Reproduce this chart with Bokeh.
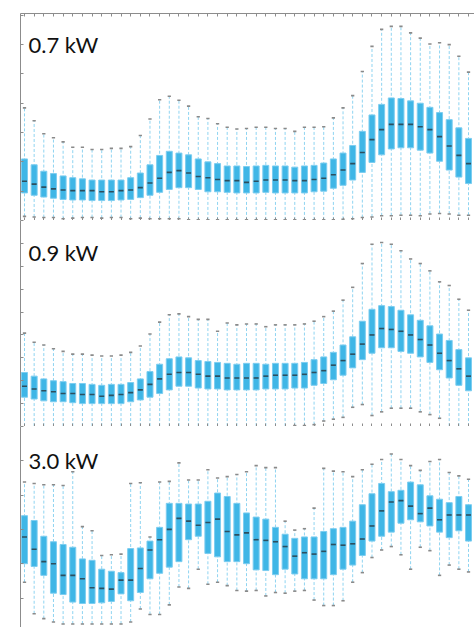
from bokeh.plotting import figure
from bokeh.layouts import column
from bokeh.models import FixedTicker, Label, LinearAxis, ColumnDataSource, Range1d
from bokeh.embed import file_html
from bokeh.resources import INLINE

slots = list(range(1, 48))
panel_labels = ["0.7 kW", "0.9 kW", "3.0 kW"]

p1_hi = [1.92,1.70,1.48,1.41,1.34,1.25,1.25,1.21,1.21,1.23,1.23,1.26,1.45,1.73,2.06,2.12,2.05,1.95,1.77,1.74,1.65,1.59,1.56,1.57,1.59,1.59,1.57,1.57,1.52,1.59,1.59,1.60,1.75,1.92,2.13,2.54,2.97,3.26,3.31,3.31,3.20,3.11,3.01,3.03,3.00,2.80,2.53]
p1_q3 = [1.05,0.95,0.84,0.80,0.76,0.73,0.71,0.69,0.69,0.69,0.69,0.73,0.81,0.95,1.11,1.18,1.15,1.12,1.05,1.00,0.97,0.93,0.93,0.92,0.93,0.94,0.93,0.93,0.91,0.93,0.94,0.98,1.05,1.15,1.28,1.52,1.80,1.98,2.09,2.08,2.04,2.00,1.93,1.84,1.72,1.58,1.40]
p1_med = [0.67,0.62,0.57,0.54,0.52,0.51,0.51,0.51,0.49,0.49,0.51,0.52,0.56,0.64,0.72,0.82,0.85,0.81,0.75,0.73,0.70,0.68,0.68,0.65,0.67,0.69,0.69,0.69,0.68,0.68,0.70,0.72,0.78,0.86,0.97,1.16,1.38,1.55,1.64,1.64,1.64,1.60,1.55,1.43,1.27,1.11,0.97]
p1_q1 = [0.47,0.43,0.40,0.38,0.36,0.35,0.35,0.34,0.34,0.34,0.35,0.36,0.39,0.43,0.48,0.53,0.56,0.56,0.53,0.49,0.49,0.48,0.47,0.47,0.47,0.48,0.47,0.47,0.47,0.47,0.49,0.50,0.55,0.60,0.69,0.82,0.99,1.12,1.22,1.24,1.24,1.20,1.15,1.01,0.86,0.74,0.63]
p1_lo = [0.07,0.06,0.05,0.05,0.03,0.04,0.05,0.05,0.04,0.05,0.05,0.03,0.04,0.03,0.03,0.03,0.03,
         0.01,0.01,0.01,0.01,0.01,0.01,0.01,0.01,0.01,0.01,0.01,0.01,0.01,0.01,0.01,0.01,0.02,0.03,
         0.05,0.06,0.08,0.08,0.09,0.09,0.08,0.11,0.12,0.11,0.09,0.09]

p2_hi = [1.02,0.92,0.89,0.85,0.82,0.79,0.79,0.78,0.77,0.77,0.78,0.81,0.88,1.01,1.14,1.22,1.23,1.20,1.17,1.17,1.04,1.13,1.11,1.12,1.12,1.09,1.11,1.11,1.11,1.12,1.15,1.20,1.26,1.38,1.52,1.78,1.99,2.01,1.99,1.92,1.83,1.78,1.70,1.58,1.54,1.39,1.27]
p2_q3 = [0.59,0.55,0.52,0.50,0.49,0.47,0.47,0.46,0.45,0.46,0.46,0.48,0.52,0.60,0.68,0.74,0.76,0.75,0.72,0.71,0.70,0.69,0.68,0.69,0.69,0.68,0.69,0.69,0.69,0.70,0.73,0.76,0.81,0.89,0.98,1.15,1.28,1.32,1.31,1.27,1.22,1.16,1.10,1.01,0.94,0.84,0.75]
p2_med = [0.44,0.41,0.39,0.38,0.36,0.36,0.35,0.35,0.33,0.34,0.35,0.37,0.40,0.46,0.52,0.57,0.59,0.59,0.57,0.55,0.55,0.53,0.53,0.53,0.53,0.55,0.56,0.56,0.56,0.57,0.59,0.61,0.67,0.72,0.79,0.90,1.00,1.07,1.06,1.04,1.00,0.95,0.89,0.80,0.72,0.63,0.55]
p2_q1 = [0.32,0.30,0.28,0.27,0.27,0.26,0.25,0.25,0.25,0.25,0.25,0.27,0.29,0.32,0.36,0.40,0.44,0.44,0.42,0.41,0.41,0.40,0.40,0.40,0.40,0.41,0.41,0.41,0.42,0.42,0.45,0.47,0.51,0.56,0.64,0.73,0.80,0.86,0.86,0.82,0.80,0.76,0.70,0.62,0.53,0.45,0.39]
p2_lo = [-0.05]*28 + [0.01,0.01,0.02,0.06,0.08,0.10,0.21,0.24,0.12,0.16,0.20,0.20,0.20,0.16,0.13,0.09,-0.05,-0.05,-0.05]

p3_hi = [2.19,2.17,2.15,2.15,2.14,2.34,1.54,1.48,1.12,1.13,1.14,2.17,2.18,1.39,2.19,2.20,2.47,2.22,2.22,2.37,2.25,2.27,2.30,2.34,2.43,2.40,2.40,1.62,1.49,1.51,1.81,2.39,2.35,2.34,2.27,2.37,2.45,2.52,2.60,2.52,2.43,2.36,2.49,2.52,2.33,2.28,2.23]
p3_q3 = [1.70,1.63,1.40,1.32,1.28,1.24,1.07,1.05,0.92,0.89,0.87,1.22,1.23,1.33,1.53,1.88,1.88,1.87,1.87,1.91,2.03,1.98,1.88,1.74,1.68,1.65,1.53,1.43,1.37,1.39,1.39,1.47,1.51,1.53,1.62,1.86,2.02,2.17,2.05,2.07,2.19,2.15,1.99,1.94,1.89,1.98,1.86]
p3_med = [1.39,1.21,1.03,1.00,0.83,0.83,0.78,0.65,0.64,0.63,0.76,0.76,0.93,1.20,1.35,1.50,1.66,1.62,1.56,1.60,1.65,1.47,1.42,1.45,1.35,1.34,1.32,1.25,1.11,1.16,1.14,1.18,1.28,1.27,1.29,1.36,1.55,1.77,1.90,1.92,1.84,1.73,1.81,1.64,1.71,1.71,1.71]
p3_q1 = [1.00,0.96,0.83,0.57,0.55,0.44,0.42,0.42,0.43,0.45,0.56,0.46,0.58,0.78,0.86,0.95,1.03,1.35,1.40,1.15,1.10,1.03,1.03,1.00,0.91,0.90,0.84,0.92,0.85,0.78,0.78,0.78,0.84,0.92,0.98,1.12,1.33,1.40,1.46,1.59,1.64,1.61,1.55,1.46,1.38,1.48,1.33]
p3_lo = [0.73,0.27,0.20,0.15,0.12,0.12,0.12,0.12,0.12,0.12,0.12,0.15,0.34,0.26,0.26,0.40,0.66,0.64,0.92,0.70,0.73,0.68,0.61,0.60,0.61,0.53,0.58,0.57,0.60,0.61,0.47,0.39,0.39,0.46,0.73,0.87,1.09,1.20,1.25,1.13,0.92,1.24,1.19,0.83,0.98,0.92,0.88]

AXIS_COLOR = "#8c8c8c"
BOX_FILL = "#3fb6e6"
BOX_LINE = "#7ccdf0"
WHISKER = "#8fd4f1"
MEDIAN = "#2c4e5e"
CAP = "#8a8a8a"

X_START, X_END = 0.5856, 47.62
FIG_W = 474


def tick_axis(ticks):
    # ticks drawn as (label-free) minor ticks pointing inward
    ax = LinearAxis(ticker=FixedTicker(ticks=[], minor_ticks=ticks))
    ax.axis_line_color = AXIS_COLOR
    ax.axis_line_width = 1
    ax.major_tick_line_color = None
    ax.major_tick_in = 0
    ax.major_tick_out = 0
    ax.minor_tick_line_color = AXIS_COLOR
    ax.minor_tick_line_width = 1
    ax.minor_tick_in = 3
    ax.minor_tick_out = 0
    ax.major_label_standoff = 0
    ax.axis_label = None
    return ax


def panel(hi, q3, med, q1, lo, label, y0, y1, ystep, label_y, height, top_border, top_axis, bottom_axis):
    src = ColumnDataSource(dict(x=slots, hi=hi, q3=q3, med=med, q1=q1, lo=lo,
                                xl=[s - 0.17 for s in slots], xr=[s + 0.17 for s in slots],
                                ml=[s - 0.26 for s in slots], mr=[s + 0.26 for s in slots]))
    p = figure(width=FIG_W, height=height, x_range=Range1d(X_START, X_END), y_range=Range1d(y0, y1),
               output_backend="svg", toolbar_location=None,
               x_axis_location=None, y_axis_location=None,
               min_border_left=20, min_border_right=0, min_border_top=top_border, min_border_bottom=0)
    p.outline_line_color = None
    p.xgrid.visible = False
    p.ygrid.visible = False
    p.background_fill_color = "white"

    yticks = []
    v = 0.0
    while v <= y1 + 1e-9:
        if v >= y0 - 1e-9:
            yticks.append(round(v, 3))
        v += ystep
    p.add_layout(tick_axis(yticks), "left")
    if bottom_axis:
        p.add_layout(tick_axis(slots), "below")
    if top_axis:
        p.add_layout(tick_axis(slots), "above")

    p.segment(x0="x", y0="lo", x1="x", y1="hi", source=src, line_color=WHISKER,
              line_width=1, line_dash="3 2")
    p.vbar(x="x", top="q3", bottom="q1", width=0.62, source=src,
           fill_color=BOX_FILL, line_color=BOX_LINE, line_width=1)
    p.segment(x0="ml", y0="med", x1="mr", y1="med", source=src, line_color=MEDIAN, line_width=1.6)
    p.segment(x0="xl", y0="hi", x1="xr", y1="hi", source=src, line_color=CAP, line_width=1.6)
    p.segment(x0="xl", y0="lo", x1="xr", y1="lo", source=src, line_color=CAP, line_width=1.6)

    p.add_layout(Label(x=1.414, y=label_y, text=label, text_font="Lato",
                       text_font_size="22px", text_color="#111111",
                       text_baseline="alphabetic", text_align="left"))
    return p


f1 = panel(p1_hi, p1_q3, p1_med, p1_q1, p1_lo, panel_labels[0], 0.0, 3.53, 0.5, 3.00,
           220, 13, True, True)
f2 = panel(p2_hi, p2_q3, p2_med, p2_q1, p2_lo, panel_labels[1], 0.0, 2.25, 0.25, 1.905,
           206, 0, False, True)
f3 = panel(p3_hi, p3_q3, p3_med, p3_q1, p3_lo, panel_labels[2], 0.07, 3.0, 0.5, 2.51,
           201, 0, False, False)

layout = column(f1, f2, f3, spacing=0)
open("out.html", "w").write(file_html(layout, INLINE))
